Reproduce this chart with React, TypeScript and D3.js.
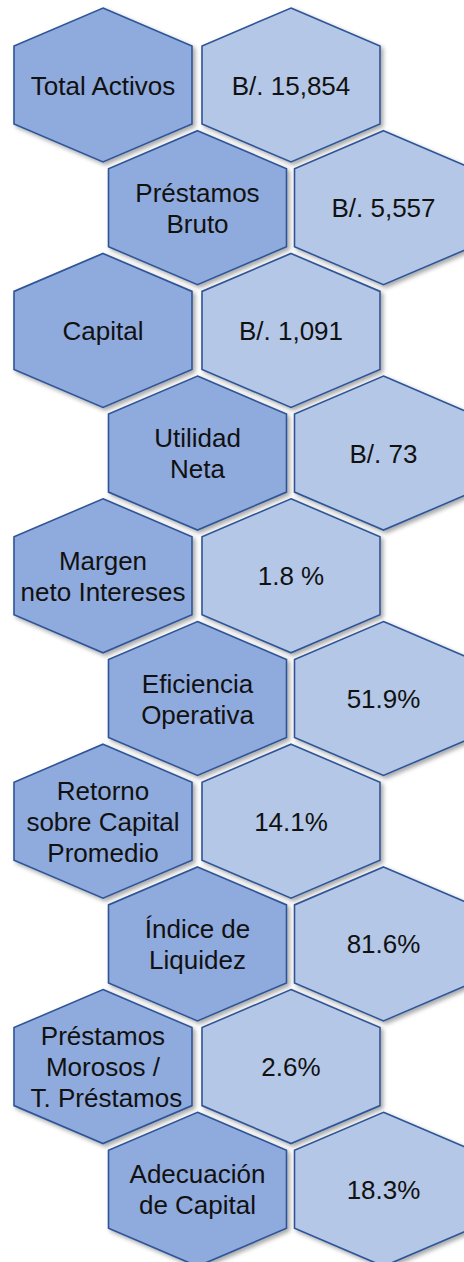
import React from "react";
import * as d3 from "d3";

const metricLabels: string[] = [
  "Total Activos",
  "Préstamos\nBruto",
  "Capital",
  "Utilidad\nNeta",
  "Margen\nneto Intereses",
  "Eficiencia\nOperativa",
  "Retorno\nsobre Capital\nPromedio",
  "Índice de\nLiquidez",
  "Préstamos\nMorosos /\n T. Préstamos",
  "Adecuación\nde Capital",
];

const metricValues: string[] = [
  "B/. 15,854",
  "B/. 5,557",
  "B/. 1,091",
  "B/. 73",
  "1.8 %",
  "51.9%",
  "14.1%",
  "81.6%",
  "2.6%",
  "18.3%",
];

const W = 464;
const H = 1262;
const HALF_W = 89;
const HALF_H = 77;
const HALF_SIDE = 39;
const FONT = 26;
const LINE_H = 31;

const DARK = "#8faadc";
const LIGHT = "#b4c7e7";
const STROKE = "#2f5597";

function hexPath(cx: number, cy: number): string {
  const p = d3.path();
  p.moveTo(cx, cy - HALF_H);
  p.lineTo(cx + HALF_W, cy - HALF_SIDE);
  p.lineTo(cx + HALF_W, cy + HALF_SIDE);
  p.lineTo(cx, cy + HALF_H);
  p.lineTo(cx - HALF_W, cy + HALF_SIDE);
  p.lineTo(cx - HALF_W, cy - HALF_SIDE);
  p.closePath();
  return p.toString();
}

function HexText({ cx, cy, text }: { cx: number; cy: number; text: string }) {
  const lines = text.split("\n");
  const n = lines.length;
  return (
    <text
      x={cx}
      textAnchor="middle"
      fontFamily="'Liberation Sans', Arial, sans-serif"
      fontSize={FONT}
      fill="#111"
    >
      {lines.map((l, k) => (
        <tspan
          key={k}
          x={cx}
          y={cy + 9.5 + (k - (n - 1) / 2) * LINE_H}
          style={{ whiteSpace: "pre" }}
        >
          {l}
        </tspan>
      ))}
    </text>
  );
}

export default function App() {
  const idx = d3.range(metricLabels.length);
  const yScale = d3
    .scaleLinear()
    .domain([0, metricLabels.length - 1])
    .range([85, 85 + 9 * 122.7]);
  // column centres: [even rows, odd rows]
  const leftX = d3.scaleOrdinal<number, number>().domain([0, 1]).range([103, 197.5]);
  const rightX = d3.scaleOrdinal<number, number>().domain([0, 1]).range([291, 383.5]);

  return (
    <div style={{ position: "absolute", left: 0, top: 0, width: W, height: H }}>
      <svg width={W} height={H} style={{ display: "block", background: "#fff" }}>
        <defs>
          <filter id="sh" x="-20%" y="-20%" width="140%" height="140%">
            <feDropShadow dx="2.5" dy="2.5" stdDeviation="2.2" floodColor="#000" floodOpacity="0.35" />
          </filter>
        </defs>
        {idx.map((i) => {
          const cy = yScale(i);
          const par = i % 2;
          const lx = leftX(par);
          const rx = rightX(par);
          return (
            <g key={i}>
              <path d={hexPath(lx, cy)} fill={DARK} stroke={STROKE} strokeWidth={1.6} filter="url(#sh)" />
              <path d={hexPath(rx, cy)} fill={LIGHT} stroke={STROKE} strokeWidth={1.6} filter="url(#sh)" />
              <HexText cx={lx} cy={cy} text={metricLabels[i]} />
              <HexText cx={rx} cy={cy} text={metricValues[i]} />
            </g>
          );
        })}
      </svg>
    </div>
  );
}
